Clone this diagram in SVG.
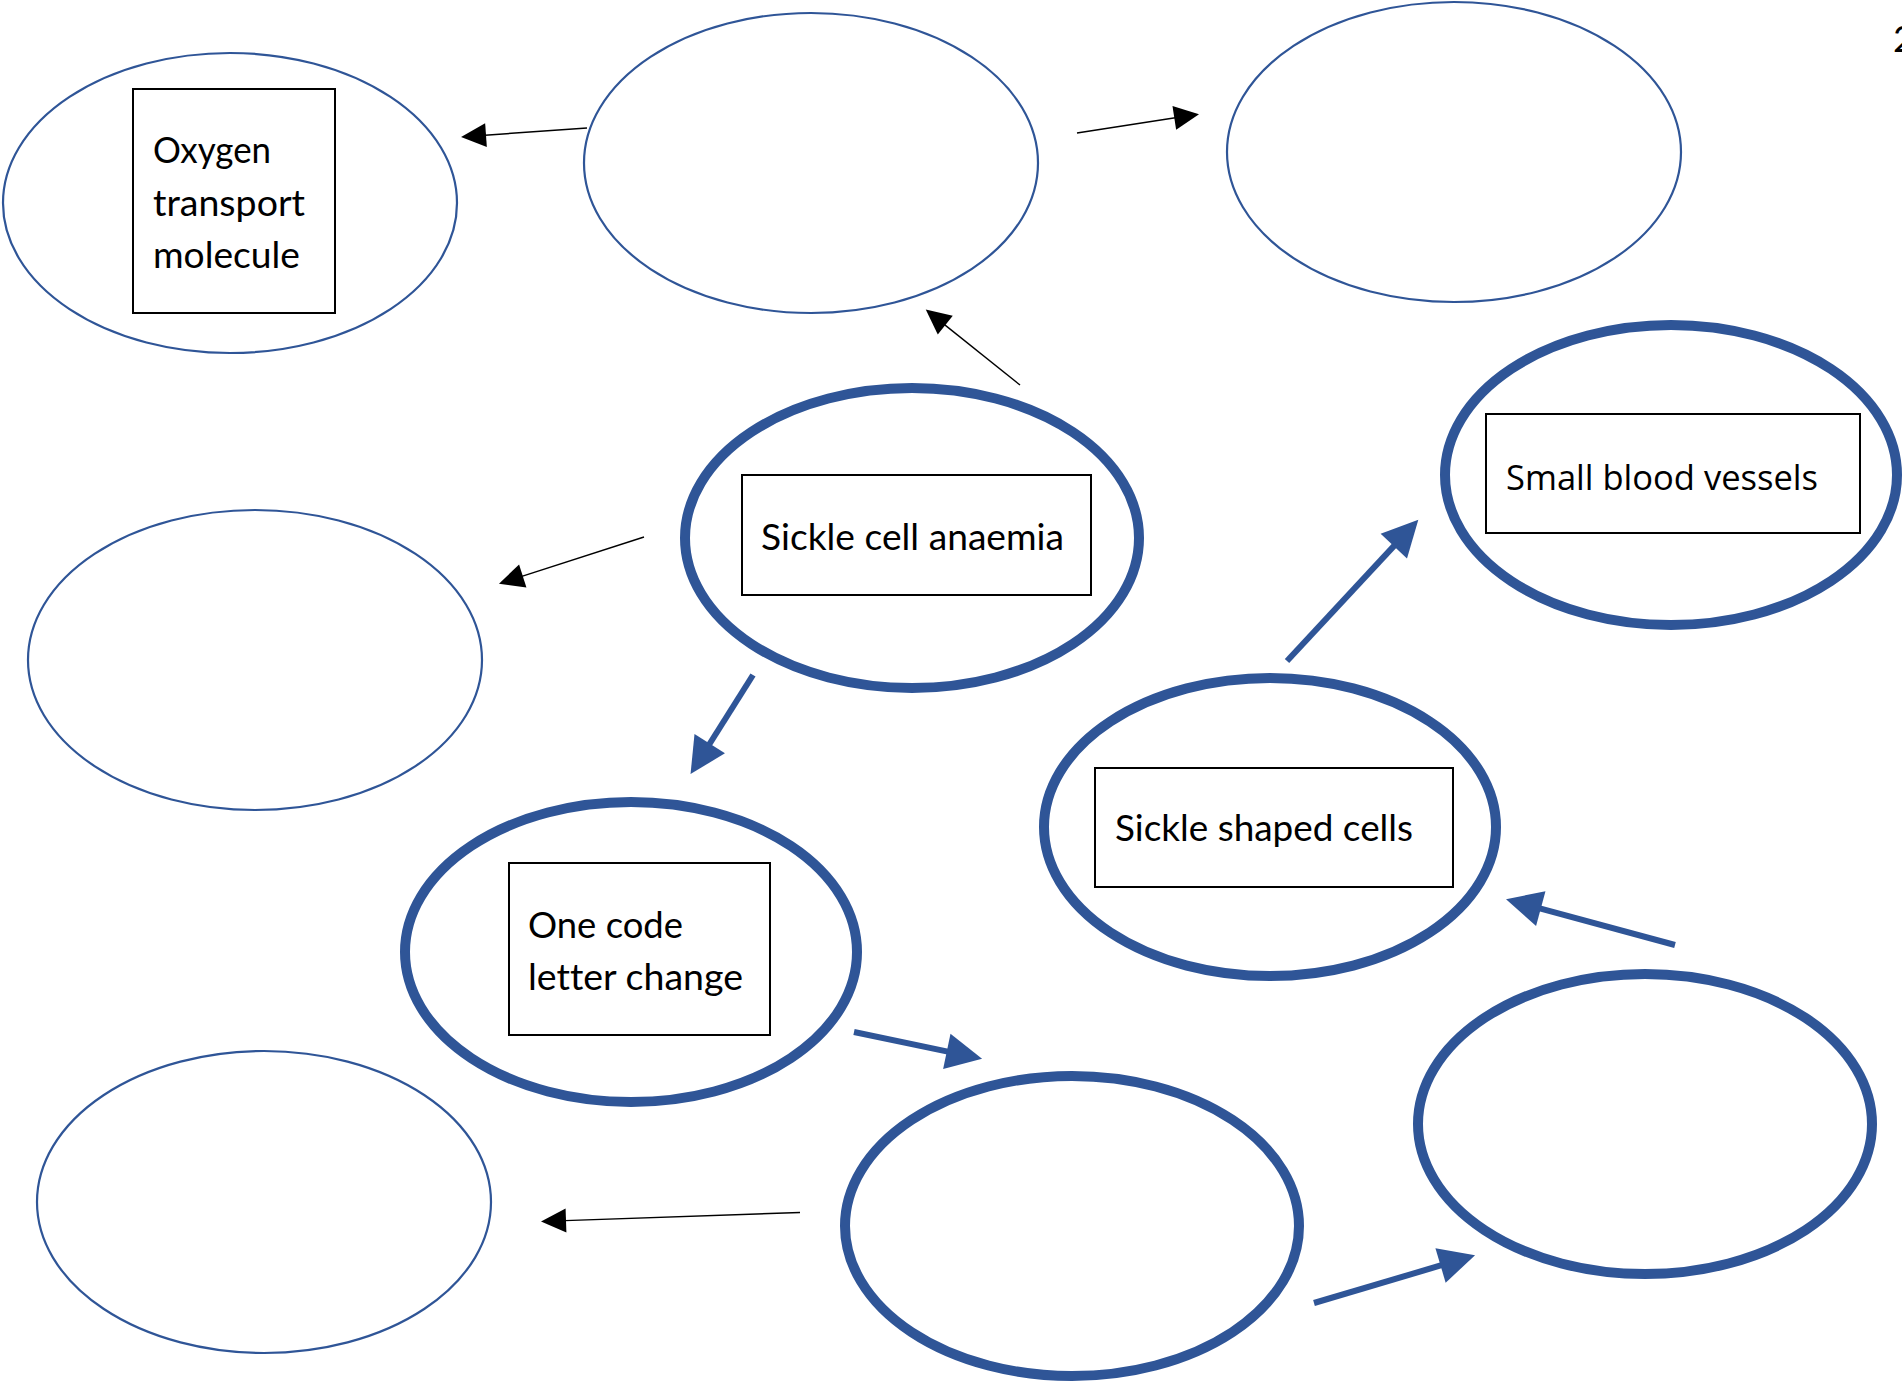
<svg xmlns="http://www.w3.org/2000/svg" width="1902" height="1388" viewBox="0 0 1902 1388">
<style>
.thin{fill:#fff;stroke:#2F5597;stroke-width:2.2}
.thick{fill:#fff;stroke:#2F5597;stroke-width:10}
.box{fill:#fff;stroke:#000;stroke-width:2}
.lbl{font-family:Lato,"Liberation Sans",sans-serif;font-size:37px;fill:#000;font-variant-ligatures:none}
.lbl2{font-family:"Open Sans","Liberation Sans",sans-serif;font-size:35px;fill:#000}
.ca{stroke:#000;stroke-width:1.4;fill:none}
.cb{stroke:#2F5597;stroke-width:6;fill:none}
</style>
<defs>
<marker id="hb" markerUnits="userSpaceOnUse" viewBox="0 -12 25 24" refX="1" refY="0" markerWidth="25" markerHeight="24" orient="auto" overflow="visible"><path d="M0,-12 L25,0 L0,12 z" fill="#000"/></marker>
<marker id="hl" markerUnits="userSpaceOnUse" viewBox="0 -18 36 36" refX="1" refY="0" markerWidth="36" markerHeight="36" orient="auto" overflow="visible"><path d="M0,-18 L36,0 L0,18 z" fill="#2F5597"/></marker>
</defs>
<rect width="1902" height="1388" fill="#fff"/>
<text class="lbl" x="1893" y="52">2</text>
<g id="n-oxygen"><ellipse class="thin" cx="230" cy="203" rx="227" ry="150"/><rect class="box" x="133" y="89" width="202" height="224"/><text class="lbl" x="153" y="163" textLength="118" lengthAdjust="spacingAndGlyphs">Oxygen</text><text class="lbl" x="153" y="216" textLength="152" lengthAdjust="spacingAndGlyphs">transport</text><text class="lbl" x="153" y="268" textLength="147" lengthAdjust="spacingAndGlyphs">molecule</text></g>
<g id="n-top-mid"><ellipse class="thin" cx="811" cy="163" rx="227" ry="150"/></g>
<g id="n-top-right"><ellipse class="thin" cx="1454" cy="152" rx="227" ry="150"/></g>
<g id="n-left-mid"><ellipse class="thin" cx="255" cy="660" rx="227" ry="150"/></g>
<g id="n-sickle"><ellipse class="thick" cx="912" cy="538" rx="227" ry="150"/><rect class="box" x="742" y="475" width="349" height="120"/><text class="lbl" x="761" y="550" textLength="303" lengthAdjust="spacingAndGlyphs">Sickle cell anaemia</text></g>
<g id="n-vessels"><ellipse class="thick" cx="1671" cy="475" rx="226" ry="150"/><rect class="box" x="1486" y="414" width="374" height="119"/><text class="lbl2" x="1506" y="490" textLength="312" lengthAdjust="spacingAndGlyphs">Small blood vessels</text></g>
<g id="n-shaped"><ellipse class="thick" cx="1270" cy="827" rx="226" ry="149"/><rect class="box" x="1095" y="768" width="358" height="119"/><text class="lbl" x="1115" y="841" textLength="298" lengthAdjust="spacingAndGlyphs">Sickle shaped cells</text></g>
<g id="n-onecode"><ellipse class="thick" cx="631" cy="952" rx="226" ry="150"/><rect class="box" x="509" y="863" width="261" height="172"/><text class="lbl" x="528" y="938" textLength="155" lengthAdjust="spacingAndGlyphs">One code</text><text class="lbl" x="528" y="990" textLength="215" lengthAdjust="spacingAndGlyphs">letter change</text></g>
<g id="n-bottom-left"><ellipse class="thin" cx="264" cy="1202" rx="227" ry="151"/></g>
<g id="n-bottom-mid"><ellipse class="thick" cx="1072" cy="1226" rx="227" ry="150"/></g>
<g id="n-bottom-right"><ellipse class="thick" cx="1645" cy="1124" rx="227" ry="150"/></g>
<g id="connectors">
<line class="ca" x1="587" y1="128" x2="485" y2="135.2" marker-end="url(#hb)"/>
<line class="ca" x1="1077" y1="133" x2="1175.3" y2="117.8" marker-end="url(#hb)"/>
<line class="ca" x1="1020" y1="385" x2="944.5" y2="324.6" marker-end="url(#hb)"/>
<line class="ca" x1="644" y1="537" x2="521.8" y2="576.3" marker-end="url(#hb)"/>
<line class="ca" x1="800" y1="1212.5" x2="565" y2="1220.6" marker-end="url(#hb)"/>
<line class="cb" x1="753" y1="675" x2="709.2" y2="744.5" marker-end="url(#hl)"/>
<line class="cb" x1="854" y1="1032" x2="947.8" y2="1051.6" marker-end="url(#hl)"/>
<line class="cb" x1="1314" y1="1303" x2="1441.5" y2="1265.2" marker-end="url(#hl)"/>
<line class="cb" x1="1675" y1="945" x2="1539.8" y2="908.4" marker-end="url(#hl)"/>
<line class="cb" x1="1287" y1="661" x2="1394.5" y2="545.4" marker-end="url(#hl)"/>
</g>
</svg>
